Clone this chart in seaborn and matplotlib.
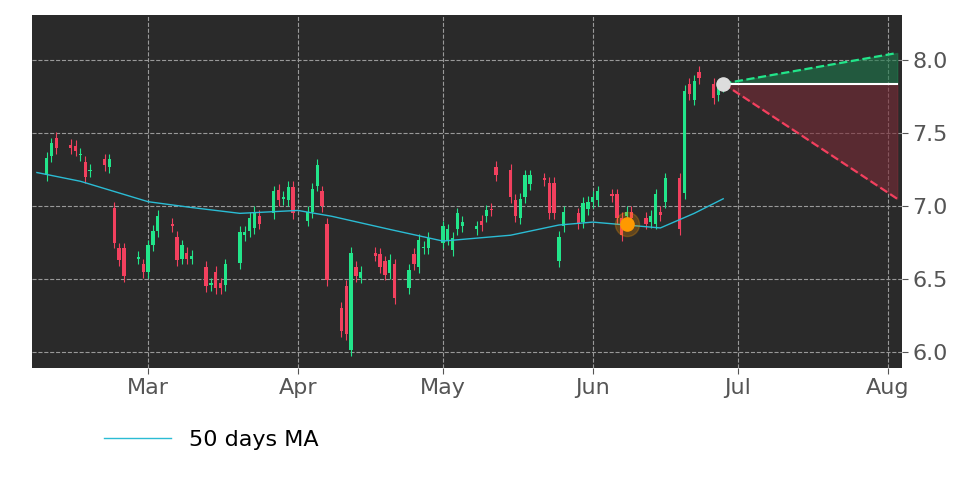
import pandas as pd
import numpy as np
import matplotlib
matplotlib.use('Agg')
import matplotlib.pyplot as plt
import matplotlib.dates as mdates
import seaborn as sns

# candle bodies: open, close per trading day
opens = [7.21, 7.34, 7.47, 7.42, 7.41, 7.35, 7.30, 7.24, 7.32, 7.27, 6.99, 6.71, 6.71, 6.64, 6.60, 6.55,
         6.73, 6.83, 6.88, 6.79, 6.64, 6.68, 6.64, 6.58, 6.46, 6.55, 6.47, 6.46, 6.61, 6.80, 6.83, 6.85,
         6.93, 6.95, 7.11, 7.05, 7.04, 7.13, 6.90, 6.96, 7.14, 7.10, 6.88, 6.30, 6.45, 6.01, 6.58, 6.51,
         6.68, 6.67, 6.62, 6.54, 6.60, 6.44, 6.67, 6.58, 6.71, 6.71, 6.75, 6.77, 6.70, 6.84, 6.86, 6.84,
         6.90, 6.93, 6.98, 7.27, 7.25, 7.04, 6.92, 7.06, 7.15, 7.19, 7.16, 7.16, 6.62, 6.86, 6.95, 6.89,
         6.98, 7.03, 7.04, 7.08, 7.08, 6.92, 6.93, 6.96, 6.92, 6.89, 6.88, 6.96, 7.03, 7.19, 7.09, 7.84,
         7.73, 7.92, 7.84, 7.76, 7.82]
closes = [7.33, 7.43, 7.40, 7.40, 7.38, 7.36, 7.20, 7.25, 7.28, 7.32, 6.75, 6.63, 6.52, 6.65, 6.55, 6.73,
          6.83, 6.93, 6.86, 6.63, 6.73, 6.64, 6.66, 6.45, 6.47, 6.44, 6.44, 6.60, 6.82, 6.82, 6.92, 6.96,
          6.88, 7.10, 7.04, 7.06, 7.13, 6.95, 6.96, 7.12, 7.28, 7.00, 6.49, 6.14, 6.12, 6.68, 6.52, 6.55,
          6.66, 6.58, 6.53, 6.63, 6.37, 6.56, 6.60, 6.77, 6.72, 6.78, 6.86, 6.84, 6.78, 6.95, 6.89, 6.86,
          6.87, 6.97, 6.97, 7.21, 7.06, 6.93, 7.05, 7.21, 7.21, 7.18, 6.95, 6.95, 6.79, 6.96, 6.88, 7.02,
          7.03, 7.06, 7.10, 7.07, 6.92, 6.80, 6.96, 6.92, 6.88, 6.93, 7.08, 6.94, 7.19, 6.84, 7.79, 7.77,
          7.86, 7.88, 7.74, 7.81, 7.84]
wick_up = 0.04
wick_dn = 0.04

ma_dates = ['2023-02-06', '2023-02-15', '2023-02-22', '2023-03-01', '2023-03-10', '2023-03-20',
            '2023-04-01', '2023-04-08', '2023-04-20', '2023-05-01', '2023-05-15', '2023-05-25',
            '2023-06-01', '2023-06-15', '2023-06-22', '2023-06-28']
ma_values = [7.23, 7.17, 7.10, 7.03, 6.99, 6.95, 6.97, 6.93, 6.84, 6.76, 6.80, 6.87, 6.89, 6.85, 6.95, 7.05]

last_date = '2023-06-28'
last_price = 7.84
proj_date = '2023-08-03'
proj_high = 8.05
proj_low = 7.05
signal_date = '2023-06-08'
signal_price = 6.88

dates = pd.bdate_range(end=last_date, periods=len(closes))
df = pd.DataFrame({'date': dates, 'open': opens, 'close': closes})
ma_df = pd.DataFrame({'date': pd.to_datetime(ma_dates), 'ma': ma_values})

green = '#22e58a'
red = '#f2405e'
fig = plt.figure(figsize=(9.72, 4.86), dpi=100)
ax = fig.add_axes([0.033, 0.243, 0.895, 0.726])
ax.set_facecolor('#2a2a2a')

up = df['close'] >= df['open']
cols = np.where(up, green, red)
xs = mdates.date2num(df['date'])
hi = np.maximum(df['open'], df['close']) + wick_up
lo = np.minimum(df['open'], df['close']) - wick_dn
ax.vlines(xs, lo, hi, colors=cols, linewidth=0.8, zorder=3)
body = (df['close'] - df['open']).abs().clip(lower=0.01)
ax.bar(xs, body, bottom=np.minimum(df['open'], df['close']), width=0.7, color=cols, zorder=4)

sns.lineplot(data=ma_df, x='date', y='ma', ax=ax, color='#2bbcd4', linewidth=1, label='50 days MA', zorder=5)

x0 = mdates.date2num(pd.Timestamp(last_date))
x1 = mdates.date2num(pd.Timestamp(proj_date))
ax.fill_between([x0, x1], [last_price, last_price], [last_price, proj_high], color='#1e7a4c', alpha=0.6, zorder=2)
ax.fill_between([x0, x1], [last_price, last_price], [last_price, proj_low], color='#7a2a36', alpha=0.6, zorder=2)
ax.plot([x0, x1], [last_price, proj_high], '--', color=green, linewidth=1.6, zorder=6)
ax.plot([x0, x1], [last_price, proj_low], '--', color=red, linewidth=1.6, zorder=6)
ax.plot([x0, x1], [last_price, last_price], color='white', linewidth=1.5, zorder=6)
ax.scatter([x0], [last_price], s=90, color='#dddddd', zorder=7)
xs_sig = mdates.date2num(pd.Timestamp(signal_date))
ax.scatter([xs_sig], [signal_price], s=300, color='#ff9900', alpha=0.25, zorder=7)
ax.scatter([xs_sig], [signal_price], s=90, color='#ff9900', zorder=8)

ax.set_xlim(mdates.date2num(pd.Timestamp('2023-02-05')), mdates.date2num(pd.Timestamp('2023-08-04')))
ax.set_ylim(5.89, 8.31)
ax.xaxis.set_major_locator(mdates.MonthLocator())
ax.xaxis.set_major_formatter(mdates.DateFormatter('%b'))
ax.set_yticks([6.0, 6.5, 7.0, 7.5, 8.0])
ax.yaxis.tick_right()
ax.grid(True, color='#999999', linestyle='--', linewidth=0.8)
ax.set_axisbelow(True)
ax.tick_params(labelsize=16, colors='#555555', length=4)
for lab in ax.get_xticklabels() + ax.get_yticklabels():
    lab.set_color('#555555')
ax.set_xlabel('')
ax.set_ylabel('')
for s in ax.spines.values():
    s.set_visible(False)
ax.legend(loc='upper left', bbox_to_anchor=(0.06, -0.12), frameon=False, fontsize=16, handlelength=3)

fig.savefig('out.png', dpi=100, facecolor='white')
